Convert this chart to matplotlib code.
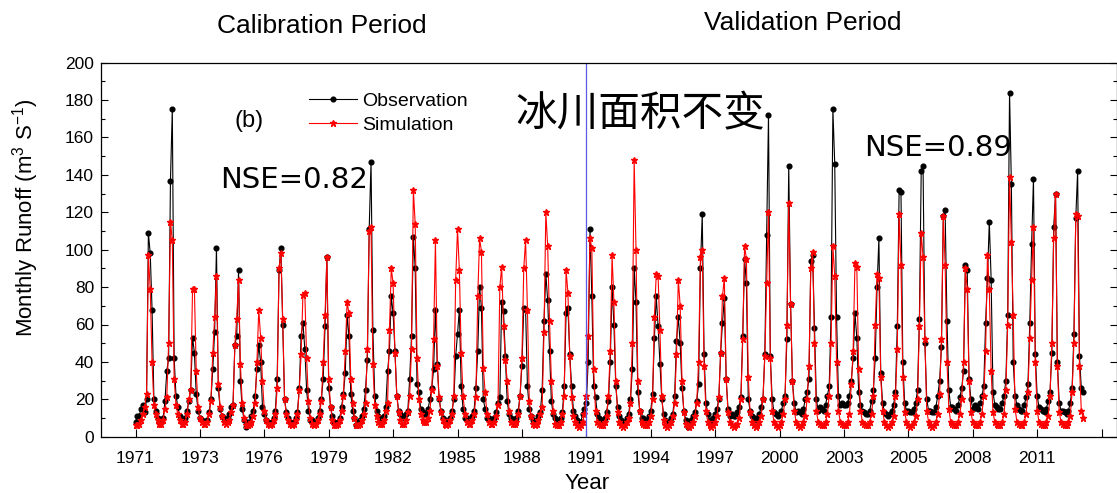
import numpy as np
import matplotlib
matplotlib.use('Agg')
import matplotlib.pyplot as plt
from matplotlib.ticker import MultipleLocator, FixedLocator

# monthly runoff (m3/s), one row per year, Jan..Dec
years = list(range(1971, 2014))

obs_monthly = [
    [8, 11, 11, 15, 17, 13, 20, 109, 98, 68, 20, 14],       # 1971
    [10, 9, 8, 10, 19, 35, 42, 137, 175, 42, 22, 16],       # 1972
    [11, 9, 9, 10, 14, 19, 25, 53, 45, 23, 14, 10],         # 1973
    [9, 8, 8, 9, 13, 20, 36, 56, 101, 26, 15, 11],          # 1974
    [10, 9, 10, 12, 16, 17, 49, 54, 89, 30, 15, 9],         # 1975
    [5, 8, 8, 11, 14, 22, 36, 49, 40, 16, 12, 9],           # 1976
    [8, 7, 8, 10, 14, 31, 89, 101, 60, 20, 13, 10],         # 1977
    [8, 7, 8, 10, 13, 26, 54, 61, 47, 25, 14, 9],           # 1978
    [9, 8, 8, 10, 14, 20, 31, 59, 96, 26, 16, 11],          # 1979
    [8, 7, 8, 10, 16, 23, 34, 65, 54, 23, 14, 10],          # 1980
    [6, 8, 9, 11, 15, 25, 41, 111, 147, 57, 22, 14],        # 1981
    [11, 10, 9, 11, 16, 35, 46, 75, 66, 46, 22, 14],        # 1982
    [12, 11, 10, 12, 14, 31, 54, 107, 90, 28, 24, 15],      # 1983
    [13, 12, 12, 15, 20, 26, 36, 68, 39, 20, 14, 10],       # 1984
    [9, 8, 8, 10, 14, 20, 43, 55, 68, 27, 15, 10],          # 1985
    [10, 9, 9, 11, 14, 26, 46, 80, 69, 20, 15, 10],         # 1986
    [10, 9, 9, 10, 13, 18, 21, 72, 67, 43, 19, 12],         # 1987
    [10, 9, 9, 10, 14, 22, 38, 69, 68, 27, 15, 11],         # 1988
    [9, 8, 9, 11, 13, 25, 62, 87, 73, 46, 19, 12],          # 1989
    [10, 9, 8, 10, 13, 27, 66, 69, 44, 27, 14, 11],         # 1990
    [9, 8, 8, 12, 15, 18, 40, 111, 75, 27, 21, 12],         # 1991
    [10, 9, 8, 10, 13, 19, 40, 80, 60, 27, 16, 11],         # 1992
    [9, 8, 8, 10, 12, 20, 36, 90, 72, 24, 14, 10],          # 1993
    [10, 9, 9, 11, 14, 23, 53, 75, 59, 39, 20, 12],         # 1994
    [9, 8, 8, 10, 12, 22, 51, 64, 50, 26, 14, 9],           # 1995
    [5, 7, 9, 11, 13, 19, 28, 90, 119, 44, 18, 12],         # 1996
    [9, 8, 10, 12, 15, 20, 45, 61, 74, 31, 15, 11],         # 1997
    [12, 11, 11, 13, 16, 21, 54, 95, 82, 20, 14, 11],       # 1998
    [10, 9, 10, 12, 16, 20, 44, 108, 172, 43, 20, 13],      # 1999
    [12, 11, 12, 14, 18, 22, 52, 145, 71, 30, 18, 13],      # 2000
    [14, 13, 12, 15, 20, 24, 31, 94, 97, 58, 20, 14],       # 2001
    [16, 15, 14, 17, 22, 27, 64, 175, 146, 64, 22, 17],     # 2002
    [18, 17, 17, 18, 22, 30, 42, 66, 53, 24, 17, 14],       # 2003
    [13, 12, 12, 14, 19, 25, 42, 80, 106, 34, 18, 13],      # 2004
    [12, 11, 12, 14, 17, 24, 59, 132, 131, 40, 18, 14],     # 2005
    [14, 13, 13, 15, 18, 25, 63, 142, 145, 50, 20, 14],     # 2006
    [14, 13, 13, 16, 22, 30, 48, 118, 121, 62, 25, 16],     # 2007
    [16, 15, 14, 17, 21, 26, 35, 92, 89, 31, 20, 15],       # 2008
    [17, 16, 15, 18, 22, 27, 61, 85, 115, 84, 24, 17],      # 2009
    [16, 15, 15, 18, 22, 30, 65, 184, 135, 40, 22, 17],     # 2010
    [15, 14, 14, 17, 21, 28, 61, 103, 138, 44, 22, 16],     # 2011
    [15, 14, 13, 15, 19, 24, 45, 112, 130, 40, 18, 14],     # 2012
    [14, 13, 12, 14, 18, 26, 55, 117, 142, 43, 26, 24],     # 2013
]

sim_monthly = [
    [6, 6, 7, 9, 12, 16, 23, 97, 79, 40, 17, 12],           # 1971
    [9, 7, 7, 9, 15, 21, 50, 115, 105, 31, 17, 12],         # 1972
    [9, 7, 7, 8, 12, 20, 25, 79, 79, 35, 16, 10],           # 1973
    [8, 7, 7, 8, 12, 19, 45, 64, 86, 28, 16, 11],           # 1974
    [8, 7, 8, 9, 13, 17, 49, 63, 84, 39, 18, 10],           # 1975
    [6, 6, 7, 8, 11, 18, 40, 68, 53, 30, 14, 9],            # 1976
    [7, 6, 7, 9, 12, 26, 90, 98, 63, 20, 12, 9],            # 1977
    [7, 6, 7, 9, 12, 25, 44, 76, 77, 42, 19, 10],           # 1978
    [7, 6, 7, 9, 12, 19, 40, 65, 96, 31, 16, 9],            # 1979
    [6, 6, 7, 9, 14, 22, 46, 72, 66, 31, 18, 10],           # 1980
    [6, 6, 7, 9, 12, 18, 47, 110, 112, 39, 17, 11],         # 1981
    [8, 7, 7, 9, 14, 18, 57, 90, 82, 45, 22, 13],           # 1982
    [9, 7, 7, 9, 13, 22, 47, 132, 114, 42, 20, 12],         # 1983
    [9, 8, 8, 10, 14, 25, 52, 105, 38, 21, 13, 9],          # 1984
    [7, 6, 7, 9, 12, 22, 84, 111, 89, 45, 22, 12],          # 1985
    [8, 7, 7, 9, 12, 21, 75, 106, 99, 37, 24, 12],          # 1986
    [8, 7, 7, 8, 11, 17, 80, 91, 59, 41, 30, 14],           # 1987
    [8, 7, 7, 8, 12, 22, 42, 90, 105, 68, 19, 11],          # 1988
    [7, 6, 7, 9, 12, 16, 56, 120, 102, 62, 30, 14],         # 1989
    [7, 6, 6, 8, 12, 22, 89, 77, 43, 21, 11, 8],            # 1990
    [6, 5, 6, 8, 12, 22, 54, 106, 101, 36, 14, 8],          # 1991
    [7, 6, 6, 8, 11, 22, 46, 97, 72, 30, 13, 8],            # 1992
    [6, 5, 6, 8, 10, 18, 50, 148, 100, 30, 14, 8],          # 1993
    [7, 6, 6, 8, 11, 20, 64, 87, 86, 57, 22, 9],            # 1994
    [6, 5, 6, 8, 11, 18, 44, 84, 70, 30, 13, 7],            # 1995
    [6, 5, 6, 8, 11, 18, 40, 96, 100, 38, 14, 8],           # 1996
    [6, 5, 6, 8, 11, 21, 45, 75, 85, 31, 13, 8],            # 1997
    [6, 5, 6, 7, 10, 20, 52, 102, 95, 32, 13, 8],           # 1998
    [6, 5, 6, 8, 11, 20, 43, 82, 120, 42, 14, 8],           # 1999
    [6, 5, 6, 8, 12, 20, 60, 125, 71, 30, 14, 8],           # 2000
    [6, 5, 6, 8, 11, 20, 38, 90, 99, 50, 14, 8],            # 2001
    [7, 6, 6, 8, 12, 22, 50, 102, 86, 40, 14, 8],           # 2002
    [7, 6, 6, 8, 12, 28, 46, 93, 91, 36, 14, 8],            # 2003
    [7, 6, 6, 8, 12, 22, 60, 87, 85, 32, 14, 8],            # 2004
    [6, 5, 6, 8, 11, 22, 47, 119, 92, 32, 13, 8],           # 2005
    [6, 5, 6, 8, 11, 20, 59, 109, 96, 52, 14, 8],           # 2006
    [6, 5, 6, 8, 12, 23, 52, 118, 92, 40, 15, 8],           # 2007
    [7, 6, 6, 8, 12, 20, 40, 90, 79, 30, 13, 8],            # 2008
    [7, 6, 6, 8, 12, 22, 46, 97, 79, 35, 13, 8],            # 2009
    [7, 6, 6, 8, 12, 25, 60, 139, 104, 65, 15, 8],          # 2010
    [7, 6, 6, 8, 12, 24, 53, 84, 112, 40, 14, 8],           # 2011
    [7, 6, 6, 8, 11, 22, 50, 106, 130, 38, 13, 8],          # 2012
    [7, 6, 6, 8, 11, 24, 50, 119, 118, 38, 14, 10],         # 2013
]

tick_labels = ['1971', '1973', '1976', '1979', '1982', '1985', '1988', '1991',
               '1994', '1997', '2000', '2003', '2005', '2008', '2011', '']
split_label = '1991'
nse_cal = 'NSE=0.82'
nse_val = 'NSE=0.89'

plt.rcParams['font.family'] = ['Liberation Sans', 'DejaVu Sans']

obs = np.array(obs_monthly, dtype=float).ravel()
sim = np.array(sim_monthly, dtype=float).ravel()
x = np.arange(obs.size)
tick_step = 35
tick_pos = np.arange(len(tick_labels)) * tick_step

W, H = 1117, 493
fig = plt.figure(figsize=(W / 100, H / 100), dpi=100)
ax = fig.add_axes([101 / W, 1 - 436.7 / H, (W - 101) / W, (436.7 - 62.7) / H])

ax.plot(x, obs, color='black', lw=0.8, marker='o', ms=3.4, mec='black',
        mfc='black', label='Observation')
ax.plot(x, sim, color='red', lw=0.8, marker='*', ms=5, mec='red',
        mfc='red', label='Simulation')

ax.axvline(tick_pos[tick_labels.index(split_label)], color='#5a5ae6', lw=0.9)

ax.set_xlim(-18.75, 533.4)
ax.set_ylim(0, 200)
ax.xaxis.set_major_locator(FixedLocator(tick_pos))
ax.set_xticklabels(tick_labels)
ax.yaxis.set_major_locator(MultipleLocator(20))
ax.yaxis.set_minor_locator(MultipleLocator(10))
ax.tick_params(axis='x', direction='in', length=6, width=0.8, pad=10,
               labelsize=12.5, top=False)
ax.tick_params(axis='y', which='major', direction='in', length=5, width=0.8,
               pad=5, labelsize=12.5, right=True)
ax.tick_params(axis='y', which='minor', direction='in', length=3, width=0.8,
               right=True)
for sp in ax.spines.values():
    sp.set_linewidth(0.9)

ax.legend(loc='upper left', bbox_to_anchor=(0.2047, 0.92), frameon=False,
          fontsize=14, handlelength=2.45, handletextpad=0.3, labelspacing=0.3,
          numpoints=1, borderaxespad=0, borderpad=0)

def px(xp, yp):
    return xp / W, 1 - yp / H

fig.text(*px(322, 26), 'Calibration Period', ha='center', va='center', fontsize=19)
fig.text(*px(803, 22.5), 'Validation Period', ha='center', va='center', fontsize=19)
fig.text(*px(249, 121), '(b)', ha='center', va='center', fontsize=17)
fig.text(*px(220, 180), nse_cal, ha='left', va='center', fontsize=21,
         family='DejaVu Sans')
fig.text(*px(864, 148), nse_val, ha='left', va='center', fontsize=21,
         family='DejaVu Sans')
fig.text(*px(515, 115), '冰川面积不变', ha='left', va='center', fontsize=30,
         family=['Noto Sans CJK SC', 'DejaVu Sans'], fontweight='light')
fig.text(*px(26, 218), r'Monthly Runoff (m$\mathregular{^3}$ S$\mathregular{^{-1}}$)',
         rotation=90, ha='center', va='center', fontsize=16)
fig.text(*px(587, 489), 'Year', ha='center', va='baseline', fontsize=16)

fig.savefig('out.png', dpi=100)
